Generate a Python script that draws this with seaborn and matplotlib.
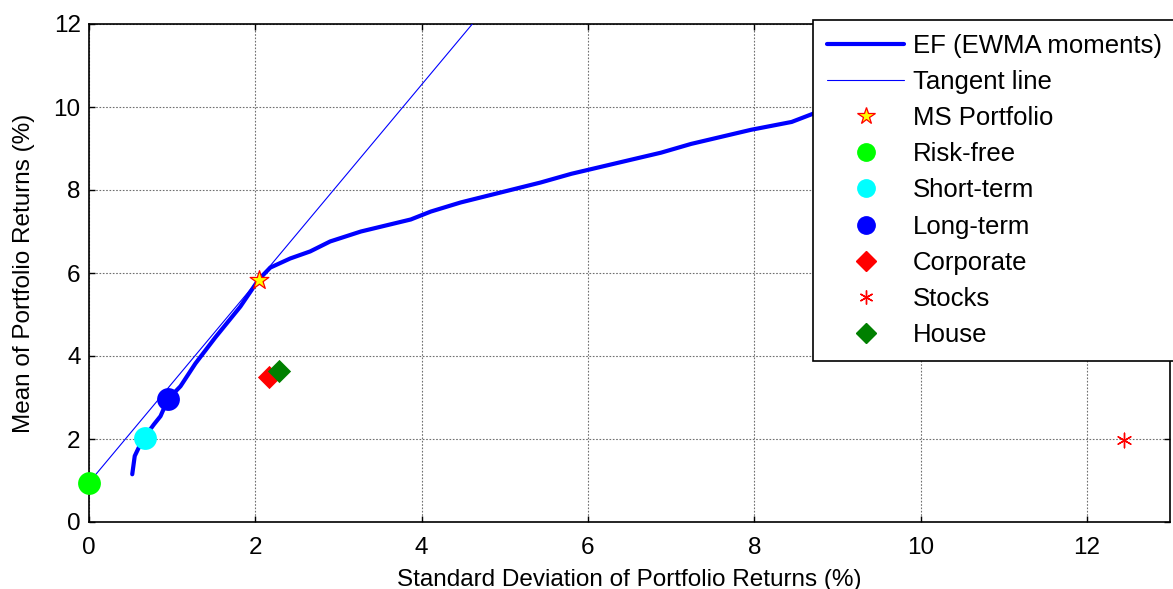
import numpy as np
import pandas as pd
import matplotlib
matplotlib.use("Agg")
import matplotlib.pyplot as plt
from matplotlib.lines import Line2D
import seaborn as sns

# Efficient frontier (EWMA moments): std dev (%) and mean (%)
ef_std = [0.52, 0.55, 0.60, 0.67, 0.78, 0.86, 0.95, 1.10, 1.28, 1.52, 1.82, 2.04,
          2.18, 2.42, 2.66, 2.90, 3.27, 3.87, 4.11, 4.47, 4.95, 5.43, 5.80, 6.16,
          6.88, 7.24, 7.96, 8.45, 8.71, 9.20, 9.80]
ef_mean = [1.15, 1.59, 1.80, 2.05, 2.35, 2.55, 2.96, 3.27, 3.82, 4.45, 5.19, 5.84,
           6.13, 6.35, 6.52, 6.76, 7.00, 7.29, 7.48, 7.70, 7.94, 8.18, 8.39, 8.56,
           8.90, 9.11, 9.45, 9.64, 9.84, 10.00, 10.20]

# Maximum-Sharpe portfolio and risk-free asset
ms_std, ms_mean = 2.04, 5.84
rf_std, rf_mean = 0.0, 0.95

# Individual assets
asset_names = ["Short-term", "Long-term", "Corporate", "Stocks", "House"]
asset_std = [0.67, 0.95, 2.17, 12.45, 2.29]
asset_mean = [2.02, 2.96, 3.49, 1.97, 3.63]

x_ticks = [0, 2, 4, 6, 8, 10, 12]
y_ticks = [0, 2, 4, 6, 8, 10, 12]

sns.set_theme(style="white")
plt.rcParams["font.family"] = ["Liberation Sans", "DejaVu Sans"]

fig = plt.figure(figsize=(11.73, 5.89), dpi=100)
ax = fig.add_axes([89 / 1173, 67 / 589, 1081 / 1173, 498 / 589])

# Capital market (tangent) line through the risk-free rate and MS portfolio
slope = (ms_mean - rf_mean) / (ms_std - rf_std)
tan_x = np.array([rf_std, 5.0])
tan_y = rf_mean + slope * (tan_x - rf_std)

sns.lineplot(x=ef_std, y=ef_mean, sort=False, ax=ax, color="#0000ff", lw=3.0, zorder=3)
sns.lineplot(x=tan_x, y=tan_y, sort=False, ax=ax, color="#0000ff", lw=0.8, zorder=3)

sns.scatterplot(x=[ms_std], y=[ms_mean], ax=ax, marker="*", s=200, color="yellow",
                edgecolor="red", linewidth=0.9, zorder=5)
sns.scatterplot(x=[rf_std], y=[rf_mean], ax=ax, marker="o", s=270, color="#00ff00",
                edgecolor="#00ff00", linewidth=0, zorder=5, clip_on=False)
sns.scatterplot(x=[asset_std[0]], y=[asset_mean[0]], ax=ax, marker="o", s=270,
                color="cyan", linewidth=0, zorder=5)
sns.scatterplot(x=[asset_std[1]], y=[asset_mean[1]], ax=ax, marker="o", s=270,
                color="#0000ff", linewidth=0, zorder=5)
sns.scatterplot(x=[asset_std[2]], y=[asset_mean[2]], ax=ax, marker="D", s=140,
                color="red", linewidth=0, zorder=5)
sns.scatterplot(x=[asset_std[3]], y=[asset_mean[3]], ax=ax, marker=(6, 2, 0), s=110,
                color="red", edgecolor="red", linewidth=1.0, zorder=5)
sns.scatterplot(x=[asset_std[4]], y=[asset_mean[4]], ax=ax, marker="D", s=140,
                color="#008000", linewidth=0, zorder=5)

ax.set_xlim(0, 13)
ax.set_ylim(0, 12)
ax.set_xticks(x_ticks)
ax.set_yticks(y_ticks)
ax.grid(True, color="#6f6f6f", linestyle=(0, (1.5, 1.5)), linewidth=0.8)
for sp in ax.spines.values():
    sp.set_color("black")
    sp.set_linewidth(1.2)
ax.tick_params(direction="in", length=4, width=1, colors="black", labelsize=17.5,
               top=True, right=True, bottom=True, left=True)
ax.tick_params(axis="x", pad=11)
ax.tick_params(axis="y", pad=6)
ax.set_xlabel("Standard Deviation of Portfolio Returns (%)", fontsize=17.5,
              color="black", labelpad=7)
ax.set_ylabel("Mean of Portfolio Returns (%)", fontsize=17.5, color="black", labelpad=13)

handles = [
    Line2D([], [], color="#0000ff", lw=3.0),
    Line2D([], [], color="#0000ff", lw=0.8),
    Line2D([], [], ls="none", marker="*", ms=13, mfc="yellow", mec="red", mew=0.9),
    Line2D([], [], ls="none", marker="o", ms=12.5, mfc="#00ff00", mec="#00ff00"),
    Line2D([], [], ls="none", marker="o", ms=12.5, mfc="cyan", mec="cyan"),
    Line2D([], [], ls="none", marker="o", ms=12.5, mfc="#0000ff", mec="#0000ff"),
    Line2D([], [], ls="none", marker="D", ms=10, mfc="red", mec="red"),
    Line2D([], [], ls="none", marker=(6, 2, 0), ms=10, mfc="red", mec="red", mew=1.0),
    Line2D([], [], ls="none", marker="D", ms=10, mfc="#008000", mec="#008000"),
]
labels = ["EF (EWMA moments)", "Tangent line", "MS Portfolio", "Risk-free",
          "Short-term", "Long-term", "Corporate", "Stocks", "House"]
leg = fig.legend(handles, labels, loc="upper left",
                 bbox_to_anchor=(813 / 1173, 1 - 20 / 589), fontsize=18.5,
                 labelcolor="black",
                 frameon=True, fancybox=False, framealpha=1, edgecolor="black",
                 handlelength=3.0, handletextpad=0.35, labelspacing=0.47,
                 borderpad=0.55, borderaxespad=0)
leg.get_frame().set_linewidth(1.2)

fig.savefig("out.png", dpi=100)
